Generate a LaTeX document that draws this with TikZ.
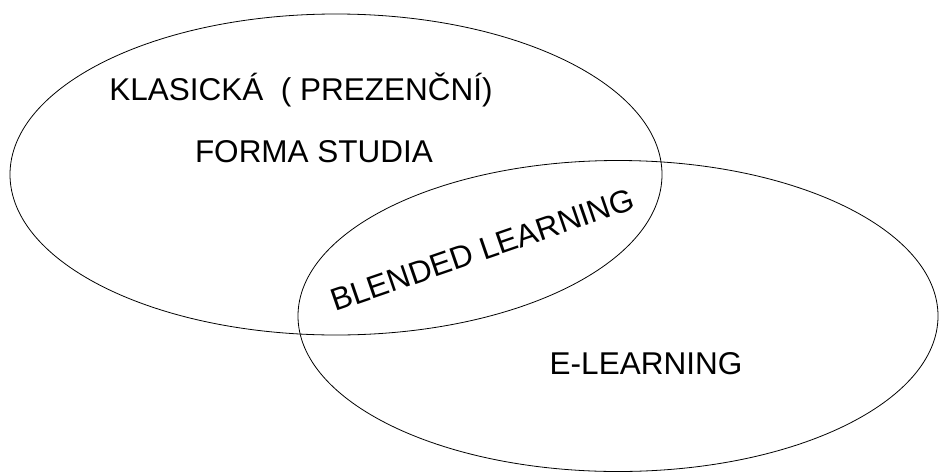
\documentclass[tikz,border=0pt]{standalone}
\usepackage{fontspec}
\setmainfont{Liberation Sans}
\begin{document}
\begin{tikzpicture}[x=1pt,y=-1pt,
  ring/.style={draw=black,line width=0.8pt},
  lbl/.style={inner sep=0pt,anchor=base,font=\fontsize{31.5}{36}\selectfont}]
\useasboundingbox[fill=white] (0,0) rectangle (939,474);
\draw[ring] (336,174.5) ellipse [x radius=326, y radius=160.5];
\draw[ring] (618,316) ellipse [x radius=320, y radius=155.5];
\node[lbl] (klas) at (301,100) {KLASICKÁ\ \ ( PREZENČNÍ)};
\node[lbl] (forma) at (314,162) {FORMA STUDIA};
\node[lbl] (elearn) at (646,374) {E-LEARNING};
\node[lbl,rotate=19] (blend) at (486,260) {BLENDED LEARNING};
\end{tikzpicture}
\end{document}
